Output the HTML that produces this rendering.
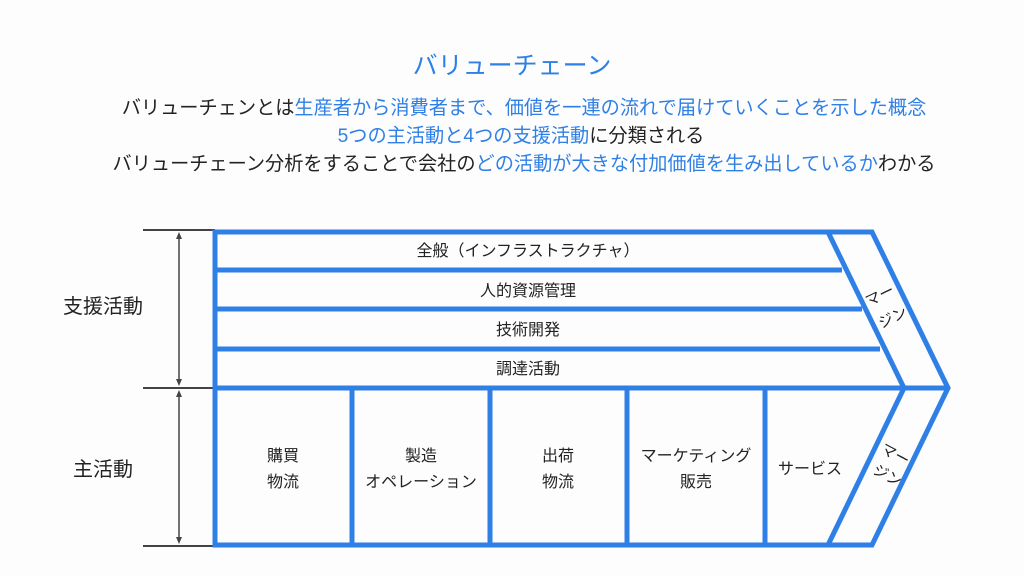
<!DOCTYPE html>
<html><head><meta charset="utf-8"><style>
body{margin:0;width:1024px;height:576px;background:#fdfdfe;font-family:"Liberation Sans","Noto Sans CJK JP",sans-serif;position:relative;overflow:hidden;color:#222}
.t{position:absolute;left:12px;width:1024px;text-align:center;white-space:nowrap}
.b{color:#2f80e6}
</style></head><body>
<div class="t b" style="top:46px;left:0;font-size:25px;">バリューチェーン</div>
<div class="t" style="top:92px;font-size:19.2px;">バリューチェンとは<span class="b">生産者から消費者まで、価値を一連の流れで届けていくことを示した概念</span></div>
<div class="t" style="top:120px;font-size:19.2px;left:9px"><span class="b">5つの主活動と4つの支援活動</span>に分類される</div>
<div class="t" style="top:148px;font-size:19.2px;">バリューチェーン分析をすることで会社の<span class="b">どの活動が大きな付加価値を生み出しているか</span>わかる</div>
<svg width="1024" height="576" style="position:absolute;left:0;top:0" font-family="Liberation Sans, Noto Sans CJK JP, sans-serif">
<g stroke="#444" stroke-width="2" fill="none">
<line x1="143" y1="230" x2="215" y2="230"/><line x1="143" y1="388" x2="215" y2="388"/><line x1="143" y1="546" x2="215" y2="546"/>
<line x1="179" y1="234" x2="179" y2="384" stroke-width="1.5"/><line x1="179" y1="392" x2="179" y2="542" stroke-width="1.5"/>
</g>
<g fill="#444"><path d="M179 232 l-3 7 h6z"/><path d="M179 386 l-3 -7 h6z"/><path d="M179 390 l-3 7 h6z"/><path d="M179 544 l-3 -7 h6z"/></g>
<g stroke="#2f80e6" stroke-width="5" fill="none" stroke-linejoin="miter">
<path d="M215 232 H872 L948 388 L872 545 H215 Z"/>
<line x1="215" y1="388" x2="948" y2="388"/>
<path d="M828 232 L904 388 L828 545"/>
<line x1="215" y1="270" x2="842" y2="270"/>
<line x1="215" y1="309" x2="862" y2="309"/>
<line x1="215" y1="349" x2="880" y2="349"/>
<line x1="352" y1="388" x2="352" y2="545"/>
<line x1="490" y1="388" x2="490" y2="545"/>
<line x1="627" y1="388" x2="627" y2="545"/>
<line x1="765" y1="388" x2="765" y2="545"/>
</g>
<g font-size="16" fill="#222" text-anchor="middle">
<text x="528" y="256">全般（インフラストラクチャ）</text>
<text x="528" y="296">人的資源管理</text>
<text x="528" y="335">技術開発</text>
<text x="528" y="374">調達活動</text>
<text x="283" y="461">購買</text><text x="283" y="487">物流</text>
<text x="421" y="461">製造</text><text x="421" y="487">オペレーション</text>
<text x="558" y="461">出荷</text><text x="558" y="487">物流</text>
<text x="696" y="461">マーケティング</text><text x="696" y="487">販売</text>
<text x="810" y="474">サービス</text>
</g>
<g font-size="20" fill="#222" text-anchor="middle">
<text x="103" y="313">支援活動</text>
<text x="103" y="476">主活動</text>
</g>
<g font-size="15" fill="#222" text-anchor="middle">
<text transform="translate(882,300) rotate(-26)">マー</text>
<text transform="translate(895,322) rotate(-26)">ジン</text>
<text transform="translate(893,459) rotate(28)">マー</text>
<text transform="translate(885,480) rotate(28)">ジン</text>
</g>
</svg>
</body></html>
